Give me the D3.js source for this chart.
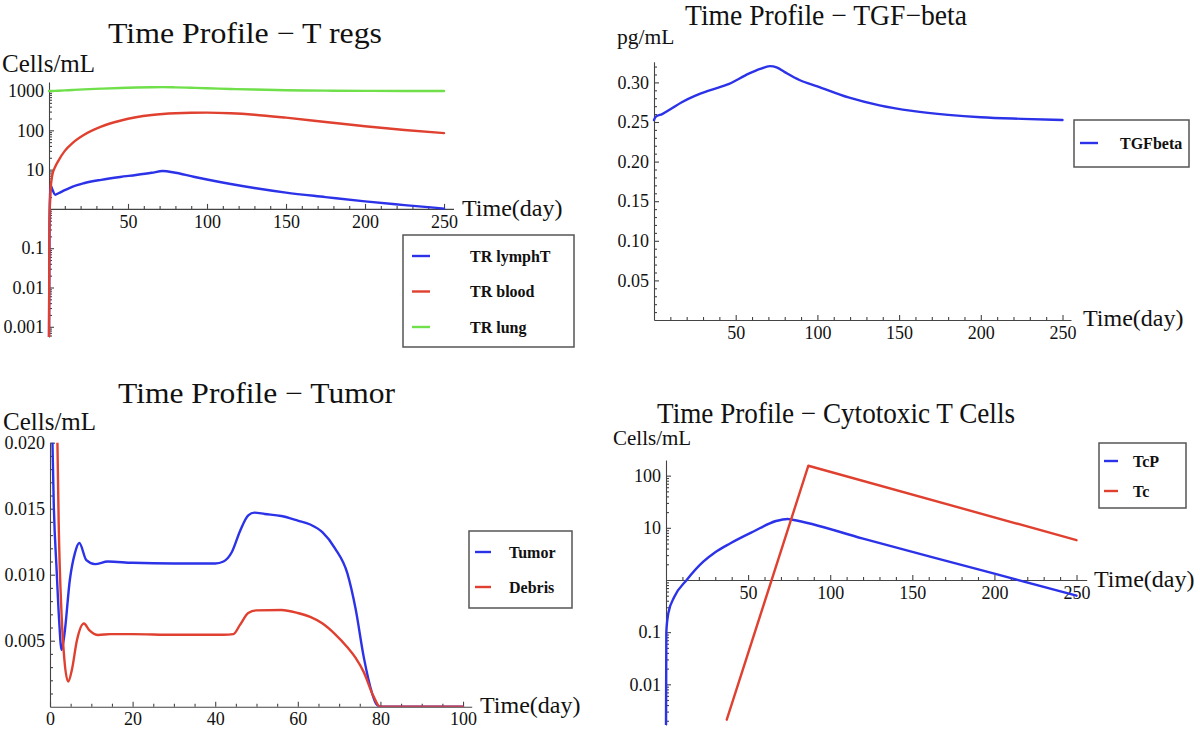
<!DOCTYPE html>
<html>
<head>
<meta charset="utf-8">
<script src="https://cdn.jsdelivr.net/npm/d3@7"></script>
<style>
  html, body { margin: 0; padding: 0; background: #fff; }
  svg { display: block; }
  text { font-family: "Liberation Serif", "Times New Roman", serif; fill: #111; }
  .tick text { font-size: 18px; }
  .legend text { font-weight: bold; font-size: 16px; }
</style>
</head>
<body>
<svg id="chart" width="1200" height="729"></svg>
<script>
// ---------------- DATA ----------------
// Panel 1: T regs (Cells/mL, log scale)
const tregDays   = [0, 0.3, 1, 2, 4, 6, 10, 15, 22, 33, 45, 55, 65, 72, 80, 90, 100, 115, 130, 150, 175, 200, 225, 250];
const tregLymphT = [0.0004, 0.3, 4, 3.2, 2.3, 2.5, 3.0, 3.7, 4.5, 5.5, 6.5, 7.3, 8.3, 9.2, 8.3, 6.8, 5.6, 4.3, 3.4, 2.6, 2.0, 1.55, 1.25, 1.02];
const tregBlood  = [0.0004, 0.5, 3, 7, 12, 17, 30, 48, 76, 124, 175, 215, 245, 260, 272, 280, 282, 272, 250, 210, 163, 127, 102, 85];
const tregLung   = [1000, 1000, 1002, 1005, 1010, 1020, 1040, 1065, 1100, 1150, 1200, 1230, 1250, 1255, 1240, 1210, 1180, 1130, 1090, 1050, 1025, 1010, 1005, 1000];
const tregSeriesNames = ["TR lymphT", "TR blood", "TR lung"];
const tregXTicks = [50, 100, 150, 200, 250];
const tregYTicks = [0.001, 0.01, 0.1, 10, 100, 1000];
const tregYLabels = ["0.001", "0.01", "0.1", "10", "100", "1000"];

// Panel 2: TGF-beta (pg/mL)
const tgfDays = [0, 1, 5, 10, 17, 25, 34, 46, 58, 65, 71, 75, 80, 89, 100, 119, 138, 158, 180, 200, 225, 250];
const tgfBeta = [0.2525, 0.2565, 0.260, 0.266, 0.275, 0.283, 0.290, 0.298, 0.311, 0.317, 0.3205, 0.319, 0.313, 0.303, 0.295, 0.281, 0.271, 0.264, 0.259, 0.256, 0.254, 0.2525];
const tgfSeriesNames = ["TGFbeta"];
const tgfXTicks = [50, 100, 150, 200, 250];
const tgfYTicks = [0.05, 0.10, 0.15, 0.20, 0.25, 0.30];
const tgfYLabels = ["0.05", "0.10", "0.15", "0.20", "0.25", "0.30"];

// Panel 3: Tumor (Cells/mL)
const tumorDays  = [0, 0.6, 0.9, 1.6, 2.2, 2.8, 3.5, 4.8, 6, 7.1, 8.8, 10.9, 14, 20, 30, 40, 42, 44, 46, 48, 49.5, 52, 56, 60, 63, 66, 69, 72, 74, 76, 78, 79, 80, 90, 100];
const tumorCells = [0.03, 0.020, 0.0155, 0.0104, 0.0066, 0.0043, 0.0055, 0.0096, 0.0116, 0.0124, 0.0111, 0.0108, 0.0110, 0.0109, 0.01085, 0.01085, 0.0110, 0.0117, 0.0133, 0.0145, 0.0147, 0.0146, 0.01445, 0.0141, 0.0138, 0.0132, 0.0120, 0.0101, 0.0074, 0.0037, 0.0010, 0.0002, 0, 0, 0];
const debrisDays  = [0, 1.5, 1.8, 2.1, 2.8, 3.5, 4.4, 5.3, 6.5, 8.2, 9.5, 11.7, 14.6, 20, 30, 42, 44.4, 46, 48, 50, 56, 60, 63, 66, 69, 72, 74, 76, 78.3, 79.9, 90, 100];
const debrisCells = [0.05, 0.025, 0.020, 0.014, 0.007, 0.0035, 0.0019, 0.0028, 0.0050, 0.0063, 0.0058, 0.00543, 0.0055, 0.0055, 0.00545, 0.00545, 0.0055, 0.0062, 0.0071, 0.0073, 0.00733, 0.0071, 0.0068, 0.0063, 0.0055, 0.0045, 0.0037, 0.0026, 0.0008, 0, 0, 0];
const tumorSeriesNames = ["Tumor", "Debris"];
const tumorXTicks = [0, 20, 40, 60, 80, 100];
const tumorYTicks = [0.005, 0.010, 0.015, 0.020];
const tumorYLabels = ["0.005", "0.010", "0.015", "0.020"];

// Panel 4: Cytotoxic T cells (Cells/mL, log scale)
const tcpDays  = [0, 0.2, 1.4, 5, 12.6, 22.7, 30, 39, 53, 67, 74, 77, 120, 200, 250];
const tcpCells = [0.0015, 0.1, 0.23, 0.47, 1.0, 2.24, 3.4, 5.0, 8.4, 13.5, 14.8, 14.3, 6.2, 1.32, 0.5];
const tcDays   = [37, 86.7, 250];
const tcCells  = [0.0021, 155, 5.8];
const cytoSeriesNames = ["TcP", "Tc"];
const cytoXTicks = [50, 100, 150, 200, 250];
const cytoYTicks = [0.01, 0.1, 10, 100];
const cytoYLabels = ["0.01", "0.1", "10", "100"];

// ---------------- STYLE ----------------
const BLUE = "#2b32e8", RED = "#e0402f", GREEN = "#6fdf4a";
const AXIS = "#444";

const svg = d3.select("#chart");
let clipId = 0;

function drawPanel(p) {
  const g = svg.append("g");
  const x = d3.scaleLinear().domain(p.xDomain).range(p.xRange);
  const y = (p.log ? d3.scaleLog() : d3.scaleLinear()).domain(p.yDomain).range(p.yRange);
  const x0 = x(0), yAxisPos = y(p.yOrigin);

  // title and labels
  g.append("text").attr("x", p.title.x).attr("y", p.title.y).attr("text-anchor", "middle")
    .attr("font-size", 29).attr("textLength", p.title.w).attr("lengthAdjust", "spacingAndGlyphs").text(p.title.text);
  g.append("text").attr("x", p.ylab.x).attr("y", p.ylab.y).attr("font-size", p.ylab.size).text(p.ylab.text);
  g.append("text").attr("x", p.xlab.x).attr("y", p.xlab.y).attr("font-size", 24).text("Time(day)");

  // x axis (major + minor)
  const xa = g.append("g").attr("transform", `translate(0,${yAxisPos})`);
  xa.call(d3.axisBottom(x).tickValues(p.xTicks).tickSize(-5).tickSizeOuter(0).tickPadding(6).tickFormat(d3.format("d")));
  const xm = g.append("g").attr("transform", `translate(0,${yAxisPos})`);
  xm.call(d3.axisBottom(x).tickValues(d3.range(0, p.xDomain[1], p.xMinor).filter(v => v > 0 && !p.xTicks.includes(v))).tickSize(-3).tickFormat(""));
  xm.select(".domain").remove();

  // y axis (major + minor)
  const ya = g.append("g").attr("transform", `translate(${x0},0)`);
  ya.call(d3.axisLeft(y).tickValues(p.yTicks).tickSize(-5).tickSizeOuter(0).tickPadding(5)
    .tickFormat((d, i) => p.yLabels[i]));
  const ym = g.append("g").attr("transform", `translate(${x0},0)`);
  ym.call(d3.axisLeft(y).tickValues(p.yMinor).tickSize(-3).tickFormat(""));
  ym.select(".domain").remove();

  [xa, xm, ya, ym].forEach(a => {
    a.selectAll("path,line").attr("stroke", AXIS).attr("stroke-width", 1.1);
    a.selectAll("text").attr("fill", "#111").style("font-family", '"Liberation Serif", "Times New Roman", serif').style("font-size", "18px");
  });

  // clip
  const id = "clip" + (clipId++);
  g.append("clipPath").attr("id", id).append("rect")
    .attr("x", p.xRange[0] - 2).attr("y", p.yRange[1])
    .attr("width", x(p.dataMaxX) - p.xRange[0] + 4).attr("height", p.yRange[0] - p.yRange[1]);

  const lines = g.append("g").attr("clip-path", `url(#${id})`);
  p.series.forEach(s => {
    const pts = s.days.map((d, i) => [d, s.values[i]]);
    const gen = d3.line()
      .x(d => x(d[0]))
      .y(d => p.log ? y(Math.max(d[1], 1e-9)) : y(d[1]))
      .curve(s.linear ? d3.curveLinear : d3.curveMonotoneX);
    lines.append("path").datum(pts).attr("d", gen)
      .attr("fill", "none").attr("stroke", s.color).attr("stroke-width", 2.4)
      .attr("stroke-linejoin", "round").attr("stroke-linecap", "round");
  });

  // legend
  const L = p.legend;
  const lg = g.append("g").attr("class", "legend");
  lg.append("rect").attr("x", L.x).attr("y", L.y).attr("width", L.w).attr("height", L.h)
    .attr("fill", "#fff").attr("stroke", "#555").attr("stroke-width", 1.5);
  p.series.forEach((s, i) => {
    const cy = L.y + L.first + i * L.step;
    lg.append("line").attr("x1", L.x + L.lx1).attr("x2", L.x + L.lx2).attr("y1", cy).attr("y2", cy)
      .attr("stroke", s.color).attr("stroke-width", 2.4);
    lg.append("text").attr("x", L.x + L.tx).attr("y", cy + 5.5).text(s.name);
  });
}

function logMinor(lo, hi) {
  const out = [];
  for (let e = lo; e <= hi; e++) for (let k = 2; k <= 9; k++) out.push(k * Math.pow(10, e));
  return out;
}

// Panel 1
drawPanel({
  xDomain: [0, 256], xRange: [49, 453.5], xTicks: tregXTicks, xMinor: 10, dataMaxX: 250,
  log: true, yDomain: [Math.pow(10, -3.26), Math.pow(10, 3.23)], yRange: [337, 82], yOrigin: 1,
  yTicks: tregYTicks, yLabels: tregYLabels,
  yMinor: logMinor(-4, 3).filter(v => v > Math.pow(10, -3.26) && v < Math.pow(10, 3.23)),
  title: { text: "Time Profile \u2212 T regs", x: 245, y: 43, w: 274 },
  ylab: { text: "Cells/mL", x: 2, y: 72, size: 25 },
  xlab: { x: 462, y: 216 },
  series: [
    { name: tregSeriesNames[0], days: tregDays, values: tregLymphT, color: BLUE },
    { name: tregSeriesNames[1], days: tregDays, values: tregBlood, color: RED },
    { name: tregSeriesNames[2], days: tregDays, values: tregLung, color: GREEN }
  ],
  legend: { x: 403, y: 235, w: 171, h: 112, first: 21, step: 35.5, lx1: 9, lx2: 27, tx: 67 }
});

// Panel 2
drawPanel({
  xDomain: [0, 255.2], xRange: [654, 1071], xTicks: tgfXTicks, xMinor: 10, dataMaxX: 250,
  log: false, yDomain: [0, 0.326], yRange: [320, 61.8], yOrigin: 0,
  yTicks: tgfYTicks, yLabels: tgfYLabels,
  yMinor: d3.range(1, 33).map(v => v / 100).filter(v => Math.round(v * 100) % 5 !== 0),
  title: { text: "Time Profile \u2212 TGF\u2212beta", x: 826, y: 25, w: 282 },
  ylab: { text: "pg/mL", x: 617, y: 44, size: 21.5 },
  xlab: { x: 1083, y: 326 },
  series: [
    { name: tgfSeriesNames[0], days: tgfDays, values: tgfBeta, color: BLUE }
  ],
  legend: { x: 1074, y: 120, w: 115, h: 47, first: 23, step: 0, lx1: 6, lx2: 24, tx: 46 }
});

// Panel 3
drawPanel({
  xDomain: [0, 102.1], xRange: [50, 471.7], xTicks: tumorXTicks, xMinor: 5, dataMaxX: 100,
  log: false, yDomain: [0, 0.020], yRange: [706.7, 442.7], yOrigin: 0,
  yTicks: tumorYTicks, yLabels: tumorYLabels,
  yMinor: d3.range(1, 20).map(v => v / 1000).filter(v => Math.round(v * 1000) % 5 !== 0),
  title: { text: "Time Profile \u2212 Tumor", x: 256.5, y: 403, w: 277 },
  ylab: { text: "Cells/mL", x: 3, y: 430, size: 25 },
  xlab: { x: 480, y: 713 },
  series: [
    { name: tumorSeriesNames[0], days: tumorDays, values: tumorCells, color: BLUE },
    { name: tumorSeriesNames[1], days: debrisDays, values: debrisCells, color: RED }
  ],
  legend: { x: 469, y: 531, w: 103, h: 77, first: 21, step: 35, lx1: 6, lx2: 22, tx: 40 }
});

// Panel 4
drawPanel({
  xDomain: [0, 256.2], xRange: [666, 1086.7], xTicks: cytoXTicks, xMinor: 10, dataMaxX: 250,
  log: true, yDomain: [Math.pow(10, -2.78), Math.pow(10, 2.3)], yRange: [725, 460], yOrigin: 1,
  yTicks: cytoYTicks, yLabels: cytoYLabels,
  yMinor: logMinor(-3, 2).filter(v => v > Math.pow(10, -2.78) && v < Math.pow(10, 2.3)),
  title: { text: "Time Profile \u2212 Cytotoxic T Cells", x: 836, y: 423, w: 358 },
  ylab: { text: "Cells/mL", x: 613, y: 445, size: 21 },
  xlab: { x: 1094, y: 587 },
  series: [
    { name: cytoSeriesNames[0], days: tcpDays, values: tcpCells, color: BLUE },
    { name: cytoSeriesNames[1], days: tcDays, values: tcCells, color: RED, linear: true }
  ],
  legend: { x: 1099, y: 443, w: 87, h: 65, first: 18, step: 30, lx1: 5, lx2: 19, tx: 34 }
});
</script>
</body>
</html>
